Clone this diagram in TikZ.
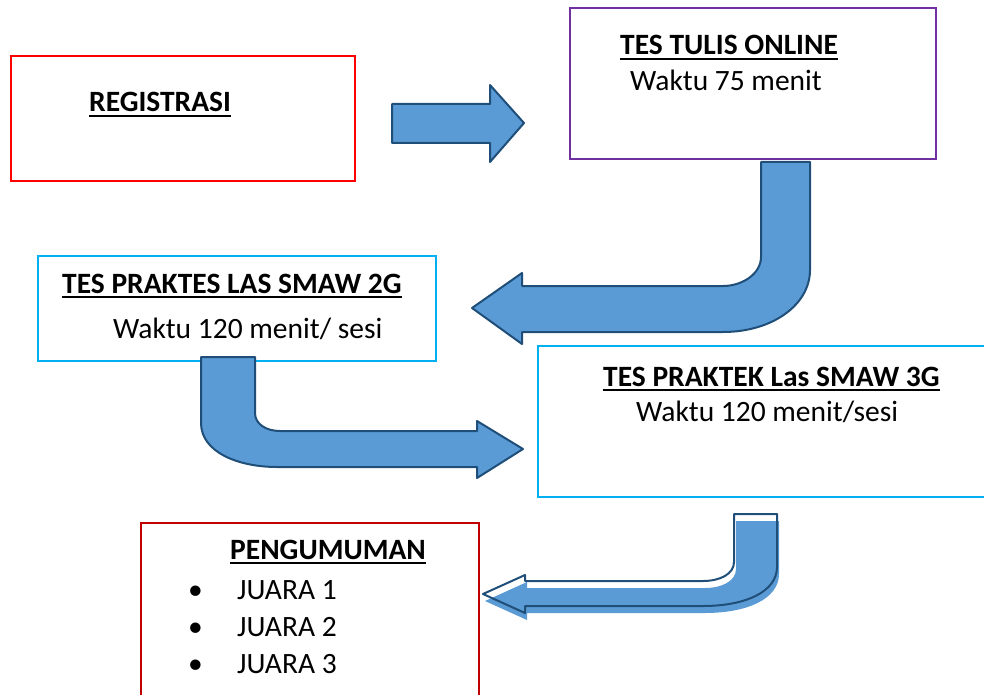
\documentclass[tikz,border=0pt]{standalone}
\usepackage{fontspec}
\setmainfont{Carlito}
\newcommand\myul[1]{\setbox0\hbox{#1}\rlap{\rule[-5pt]{\wd0}{2pt}}\box0}
\definecolor{arrfill}{HTML}{5B9BD5}
\definecolor{arrline}{HTML}{1F4E79}
\definecolor{boxred}{HTML}{FF0000}
\definecolor{boxdred}{HTML}{C00000}
\definecolor{boxpurple}{HTML}{7030A0}
\definecolor{boxcyan}{HTML}{00B0F0}
\tikzset{
  boxnode/.style={draw=#1, line width=2pt, anchor=north west, inner sep=0pt},
  txt/.style={anchor=base west, inner sep=0pt, font=\fontsize{29.5}{35}\selectfont},
  head/.style={anchor=base west, inner sep=0pt, font=\fontsize{29.5}{35}\selectfont\bfseries},
  blockarrow/.style={fill=arrfill, draw=arrline, line width=2pt, line join=round},
}
\begin{document}
\begin{tikzpicture}[x=1pt,y=-1pt]
\useasboundingbox (0,0) rectangle (984,695);
% boxes
\node[boxnode=boxred, minimum width=344pt, minimum height=125pt] (reg) at (10,55) {};
\node[boxnode=boxpurple, minimum width=366pt, minimum height=151pt] (tulis) at (569,7) {};
\node[boxnode=boxcyan, minimum width=398pt, minimum height=105pt] (smaw2) at (37,255) {};
\node[boxnode=boxcyan, minimum width=460pt, minimum height=151pt] (smaw3) at (537,345) {};
\node[boxnode=boxdred, minimum width=338pt, minimum height=200pt] (umum) at (140,522) {};
% texts
\node[head] (tReg) at (89,112) {\myul{REGISTRASI}};
\node[head] (tTulis) at (620,55) {\myul{TES TULIS ONLINE}};
\node[txt] (wTulis) at (630,91) {Waktu 75 menit};
\node[head] (tS2) at (62,293) {\myul{TES PRAKTES LAS SMAW 2G}};
\node[txt] (wS2) at (113,338) {Waktu 120 menit/ sesi};
\node[head] (tS3) at (603,386) {\myul{TES PRAKTEK Las SMAW 3G}};
\node[txt] (wS3) at (636,421) {Waktu 120 menit/sesi};
\node[head] (tUm) at (230,559) {\myul{PENGUMUMAN}};
\foreach \y/\n in {599/1,636/2,673/3}{
  \node[txt] (b\n) at (188,\y) {\textbullet};
  \node[txt] (j\n) at (237,\y) {JUARA \n};
}
% arrow 1
\draw[blockarrow] (392,104) -- (490,104) -- (490,85) -- (524,123) -- (490,162) -- (490,143) -- (392,143) -- cycle;
% arrow 2
\draw[blockarrow] (761,162) -- (761,257) .. controls (761,274) and (742,286) .. (723,286)
  -- (522,286) -- (522,273) -- (472,308) -- (522,344) -- (522,332) -- (723,332)
  .. controls (772,332) and (810,305) .. (810,270) -- (810,162) -- cycle;
% arrow 3
\draw[blockarrow] (201,357) -- (201,423) .. controls (201,452) and (238,467) .. (277,467)
  -- (477,467) -- (477,478) -- (523,449) -- (477,421) -- (477,431) -- (280,431)
  .. controls (266,431) and (255,424) .. (255,413) -- (255,357) -- cycle;
% arrow 4 (offset fill + outline)
\fill[arrfill, shift={(2,7)}] (734,514) -- (734,562) .. controls (734,574) and (720,581) .. (703,581)
  -- (525,581) -- (525,575) -- (483,594) -- (525,613) -- (525,606) -- (703,606)
  .. controls (745,606) and (777,592) .. (777,567) -- (777,514) -- cycle;
\draw[draw=arrline, line width=2pt, line join=round] (734,514) -- (734,562) .. controls (734,574) and (720,581) .. (703,581)
  -- (525,581) -- (525,575) -- (483,594) -- (525,613) -- (525,606) -- (703,606)
  .. controls (745,606) and (777,592) .. (777,567) -- (777,514) -- cycle;
\end{tikzpicture}
\end{document}
